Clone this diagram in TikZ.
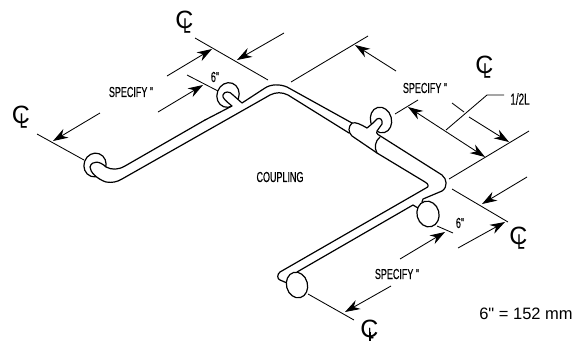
\documentclass[tikz,border=0pt]{standalone}
\usepackage{fontspec}
\setmainfont{Liberation Sans}
\newfontfamily\condfont[FakeStretch=0.62,FakeBold=0.25]{Liberation Sans}
\newfontfamily\plainfont{Liberation Sans}
\usetikzlibrary{arrows.meta}
\newcommand\clmark{\fontsize{25}{25}\selectfont\rlap{C}\kern8pt\raisebox{-4pt}{\condfont\fontsize{21}{21}\selectfont L}}
\tikzset{
  x=1pt,y=-1pt,
  thinline/.style={line width=0.85pt,black},
  dimarrow/.style={thinline,-{Stealth[length=15pt,width=10pt]}},
  dimboth/.style={thinline,{Stealth[length=15pt,width=10pt]}-{Stealth[length=15pt,width=10pt]}},
  barline/.style={line width=1.2pt,black,line cap=round,line join=round},
  flangering/.style={line width=1.2pt,draw=black,fill=white},
  eraser/.style={fill=white,draw=none},
  lbl/.style={inner sep=0pt,font=\condfont\fontsize{14.5}{14.5}\selectfont},
  clsym/.style={inner sep=0pt},
}
\begin{document}
\begin{tikzpicture}
\useasboundingbox (0,0) rectangle (580,341);
% ---- coordinates for the dimension work
\coordinate (aS) at (167,76); \coordinate (aT) at (212,49);
\coordinate (bS) at (284,33); \coordinate (bT) at (237,60);
\coordinate (cS) at (158,112); \coordinate (cT) at (203,85);
\coordinate (dS) at (100,113); \coordinate (dT) at (53,141);
\coordinate (eS) at (396,71); \coordinate (eT) at (355,45);
\coordinate (fS) at (408,107); \coordinate (fT) at (485,157);
\coordinate (gS) at (469,117); \coordinate (gT) at (509,142);
\coordinate (hS) at (527,177); \coordinate (hT) at (482,204);
\coordinate (iS) at (458,248); \coordinate (iT) at (505,222);
\coordinate (jS) at (400,259); \coordinate (jT) at (445,232);
\coordinate (kS) at (391,286); \coordinate (kT) at (345,312);
% ---- extension lines
\coordinate (l1a) at (195,38); \coordinate (l1b) at (268,80);
\coordinate (l2a) at (187,75); \coordinate (l2b) at (218,91);
\coordinate (l3a) at (37,134); \coordinate (l3b) at (84,160);
\coordinate (l4a) at (291,82); \coordinate (l4b) at (368,36);
\coordinate (l5a) at (395,114); \coordinate (l5b) at (418,100);
\coordinate (l6a) at (449,179); \coordinate (l6b) at (529,131);
\coordinate (l7a) at (452,189); \coordinate (l7b) at (508,222);
\coordinate (l8a) at (437,226); \coordinate (l8b) at (453,233);
\coordinate (l9a) at (308,294); \coordinate (l9b) at (354,320);
\coordinate (tickA) at (452,103); \coordinate (tickB) at (464,112);
\coordinate (ldA) at (446,130); \coordinate (ldB) at (487,95); \coordinate (ldC) at (504,95);
\foreach \p/\q in {l1a/l1b,l2a/l2b,l3a/l3b,l4a/l4b,l5a/l5b,l6a/l6b,l7a/l7b,l8a/l8b,l9a/l9b,tickA/tickB}
  \draw[thinline] (\p) -- (\q);
\draw[thinline] (ldA) -- (ldB) -- (ldC);
\foreach \s/\t in {aS/aT,bS/bT,cS/cT,dS/dT,eS/eT,gS/gT,hS/hT,iS/iT,jS/jT,kS/kT}
  \draw[dimarrow] (\s) -- (\t);
\draw[dimboth] (fS) -- (fT);
% ---- wall flanges behind the bar
\draw[flangering,rotate around={-20:(95,165)}] (95,165) ellipse [x radius=11,y radius=12];
\draw[flangering,rotate around={-20:(228,95)}] (228,95) ellipse [x radius=11,y radius=12.5];
\draw[flangering,rotate around={15:(381,120)}] (381,120) ellipse [x radius=10.5,y radius=13];
% ---- left run
\path[eraser] (232,106) .. controls (226,101) and (222,98) .. (223,95) .. controls (224,91) and (230,91) .. (233,95) -- (242,103) -- (232,112) -- cycle;
\path[eraser] (106,167) .. controls (100,161) and (92,160) .. (90,167) .. controls (90,172) and (97,179) .. (106,182) -- (118,182) -- (118,168) -- cycle;
\draw[barline] (205,120) -- (232,106) .. controls (226,101) and (222,98) .. (223,95)
  .. controls (224,91) and (230,91) .. (233,95) -- (242,103) -- (265,88)
  .. controls (271,84) and (280,84) .. (287,87) -- (352,123);
\draw[barline] (205,120) -- (125,166) .. controls (118,170) and (112,170) .. (106,167);
\draw[barline] (106,167) .. controls (100,161) and (92,160) .. (90,167)
  .. controls (90,172) and (97,179) .. (106,182) .. controls (112,183) and (117,182) .. (122,179)
  -- (270,95) .. controls (276,92) and (282,92) .. (288,95) -- (349,133);
% ---- coupling and middle flange neck
\path[eraser] (367,128) -- (377,119) .. controls (380,117) and (383,120) .. (382,124) -- (377,131) -- (378,136) -- (372,140) -- cycle;
\draw[barline] (352,123) .. controls (348,127) and (348,132) .. (352,136) -- (377,153);
\draw[barline] (352,123) .. controls (356,122) and (360,124) .. (367,128)
  -- (373,123) -- (377,119) .. controls (380,117) and (383,120) .. (382,124) -- (377,131)
  .. controls (376,132) and (377,134) .. (378,134.5) -- (442,175)
  .. controls (447,179) and (448,187) .. (442,191) -- (423,199) -- (422,202);
\draw[barline] (380,137) .. controls (375,141) and (374,148) .. (377,153) -- (425,182)
  .. controls (429,184) and (429,187) .. (426,188) -- (280,272)
  .. controls (277,274) and (277,279) .. (280,280) -- (287,283);
\draw[barline] (297,272) -- (413,205) -- (418,208);
% ---- flanges in front of the bar
\draw[flangering,rotate around={15:(428,214)}] (428,214) ellipse [x radius=11,y radius=13];
\draw[flangering,rotate around={15:(297,285)}] (297,285) ellipse [x radius=10.5,y radius=13];
% ---- labels
\node[lbl] (sp1) at (131,92) {SPECIFY "};
\node[lbl] (sp2) at (425,88) {SPECIFY "};
\node[lbl] (sp3) at (397,274) {SPECIFY "};
\node[lbl] (coup) at (280,177) {COUPLING};
\node[lbl] (six1) at (215,77) {6"};
\node[lbl] (six2) at (460,223) {6"};
\node[lbl,font=\condfont\fontsize{16}{16}\selectfont] (half) at (520,99) {1/2L};
\node[inner sep=0pt,font=\plainfont\fontsize{16.5}{16.5}\selectfont] (conv) at (526,314) {6" = 152 mm};
\node[clsym] (cl1) at (183,22) {\clmark};
\node[clsym] (cl2) at (19.5,117) {\clmark};
\node[clsym] (cl3) at (483,67) {\clmark};
\node[clsym] (cl4) at (517,238) {\clmark};
\node[clsym] (cl5) at (367,329) {\fontsize{25}{25}\selectfont\rlap{C}\kern8pt\raisebox{-1pt}{\condfont\fontsize{15}{15}\selectfont L}};
\coordinate (tailA) at (370,332); \coordinate (tailB) at (370,341);
\draw[line width=1.2pt] (tailA) -- (tailB);
\end{tikzpicture}
\end{document}
